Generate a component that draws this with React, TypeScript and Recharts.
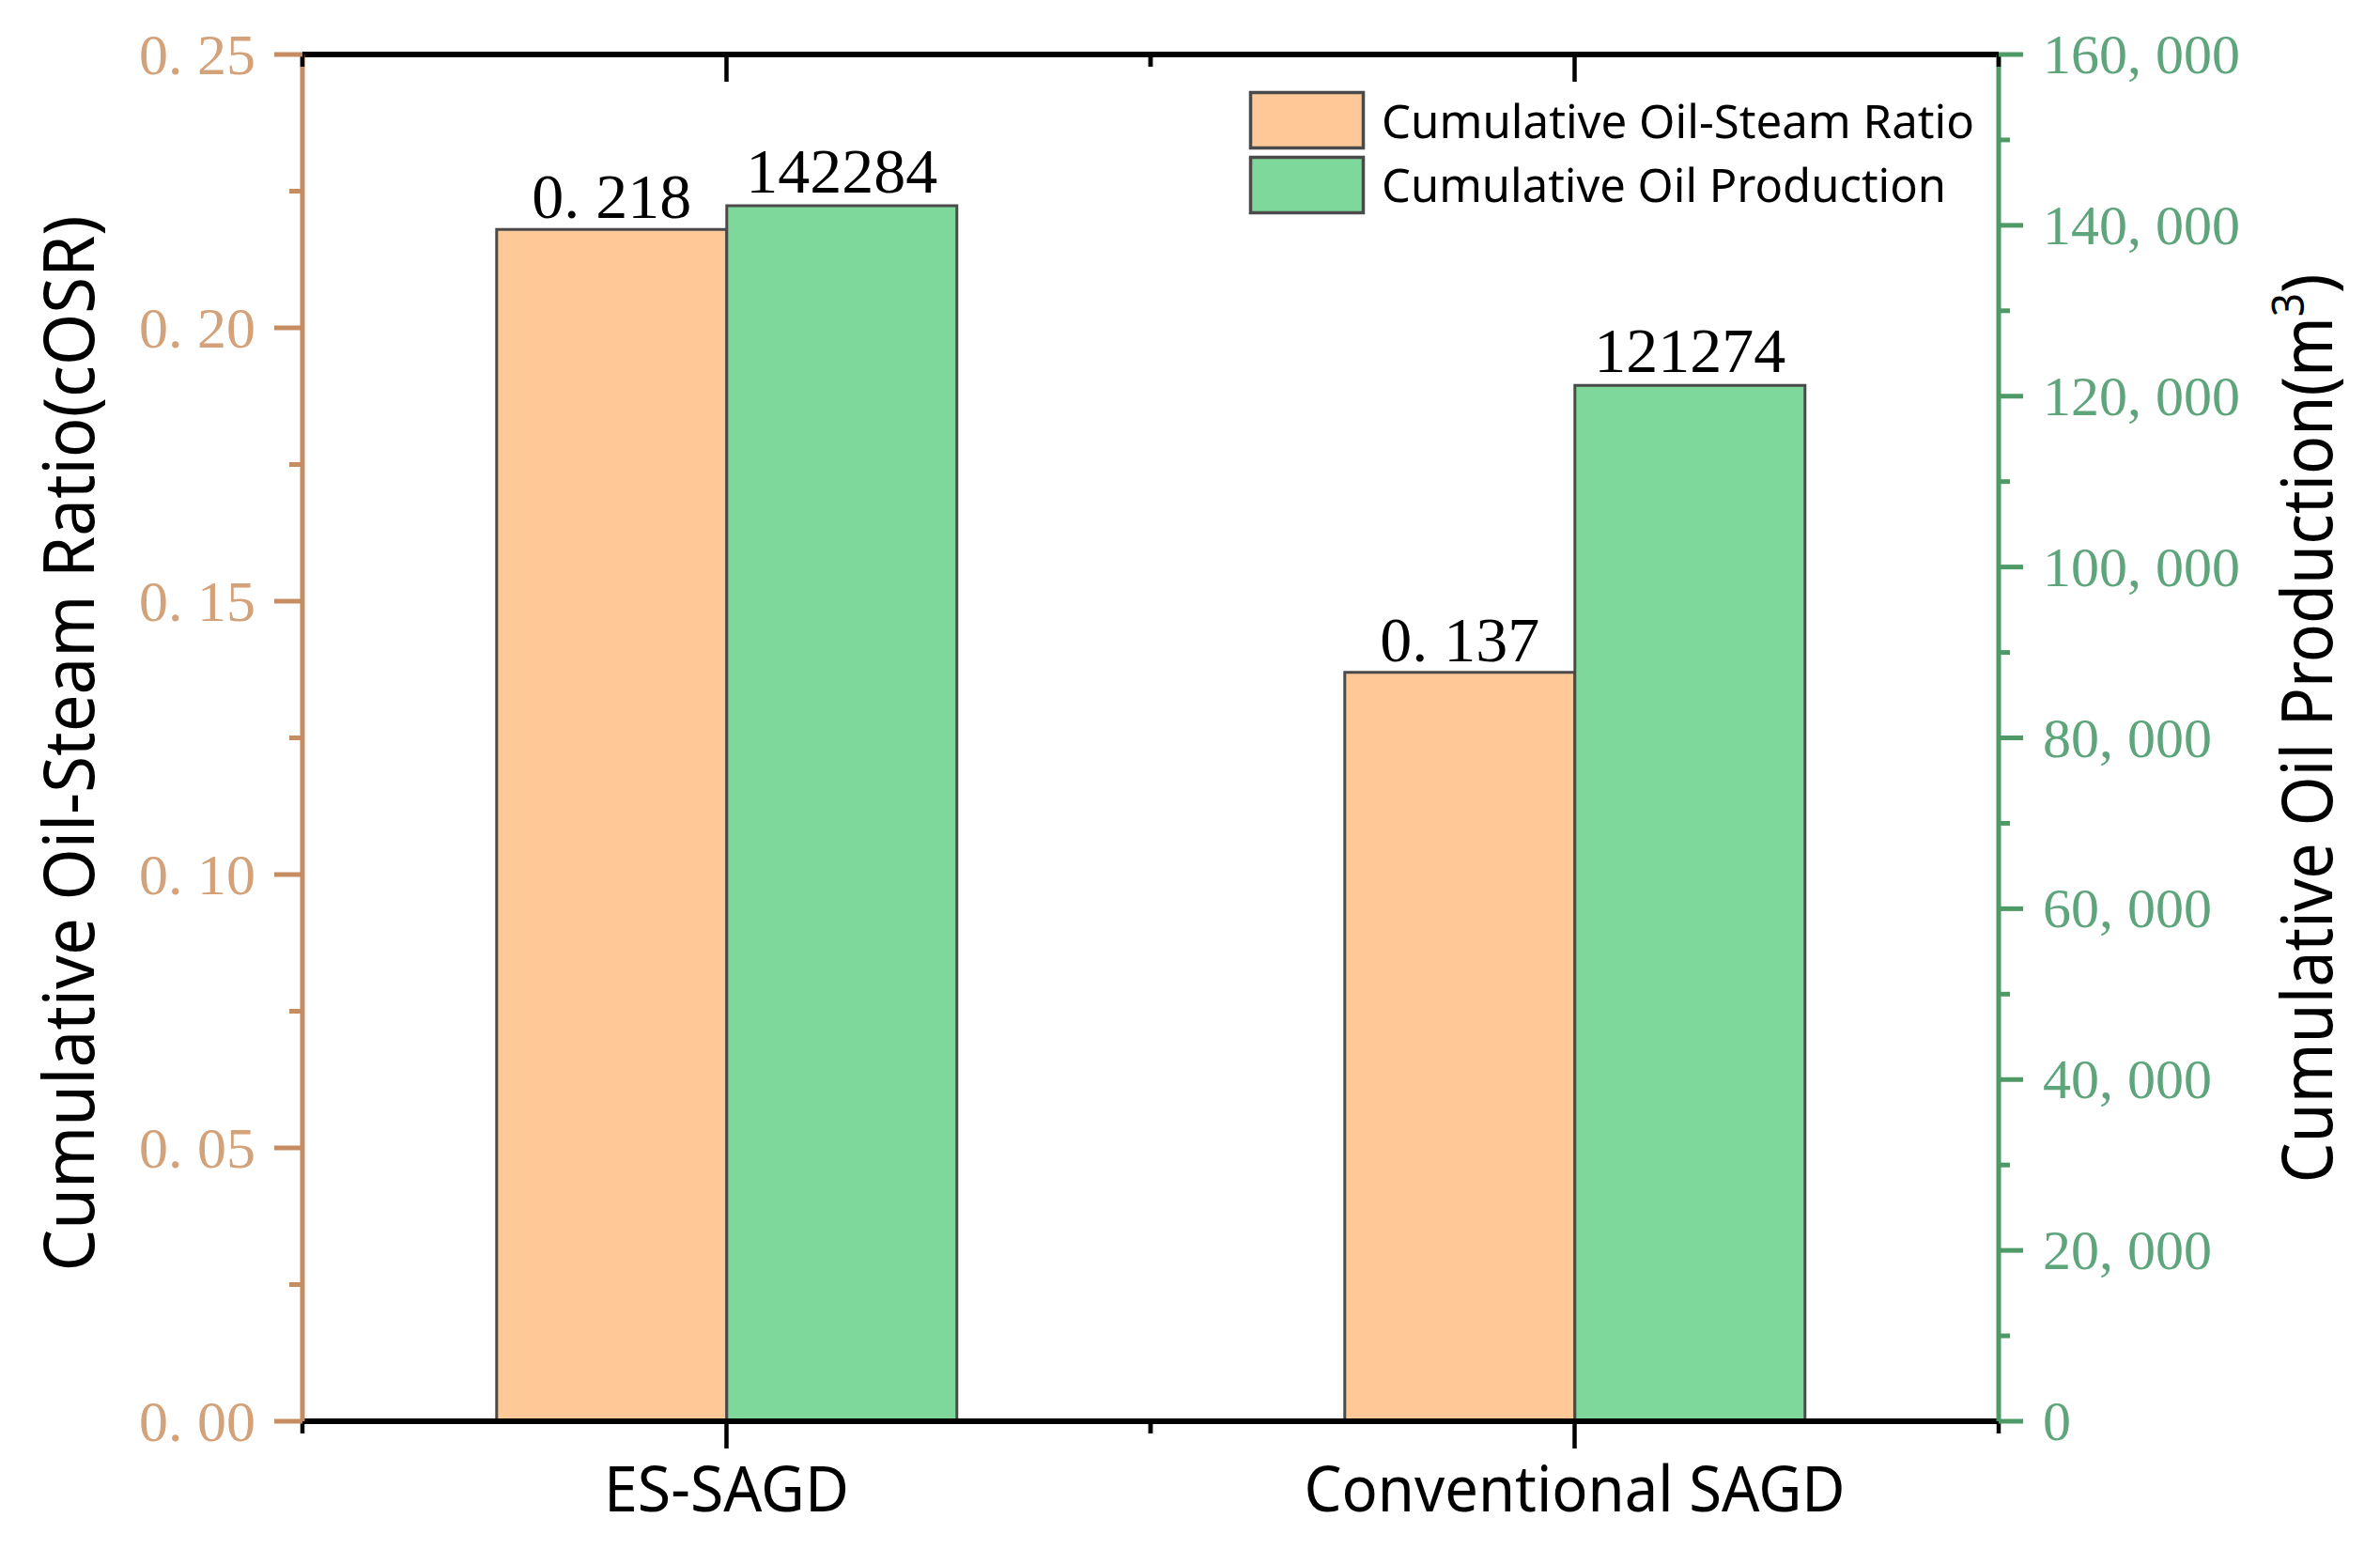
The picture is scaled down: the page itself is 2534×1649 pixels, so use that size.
import React from 'react';
import { ComposedChart, Bar, XAxis, YAxis, Legend, LabelList } from 'recharts';

// ---- data ----
const categories = ['ES-SAGD', 'Conventional SAGD'];
const cosrValues = [0.218, 0.137];
const oilValues = [142284, 121274];
const seriesNames = ['Cumulative Oil-Steam Ratio', 'Cumulative Oil Production'];
const leftMajorTicks = [0, 0.05, 0.1, 0.15, 0.2, 0.25];
const leftMinorTicks = [0.025, 0.075, 0.125, 0.175, 0.225];
const rightMajorTicks = [0, 20000, 40000, 60000, 80000, 100000, 120000, 140000, 160000];
const rightMinorTicks = [10000, 30000, 50000, 70000, 90000, 110000, 130000, 150000];
const leftTitle = 'Cumulative Oil-Steam Ratio(cOSR)';
const rightTitle = 'Cumulative Oil Production(m';
const rightTitleSup = '3';
const rightTitleEnd = ')';

const data = categories.map((name, i) => ({ name, cosr: cosrValues[i], oil: oilValues[i] }));
const leftTicks = [...leftMajorTicks, ...leftMinorTicks].sort((a, b) => a - b);
const rightTicks = [...rightMajorTicks, ...rightMinorTicks].sort((a, b) => a - b);

// ---- styles ----
const SERIF = '"Liberation Serif", "DejaVu Serif", serif';
const SANS = '"Noto Sans", "DejaVu Sans", sans-serif';
const TAN_AXIS = '#C68D63';
const TAN_TEXT = '#D3A27A';
const GREEN_AXIS = '#4E9A66';
const GREEN_TEXT = '#5FA57C';
const ORANGE_FILL = '#FEC897';
const GREEN_FILL = '#7FD89B';
const BAR_STROKE = '#4A4A4A';
const xLabelLengths = [261, 576];
const legendLengths = [631, 601];

const fmtLeft = (v: number) => v.toFixed(2).replace('.', '. ');
const fmtRight = (v: number) => {
  const s = String(Math.round(v));
  return s.length > 3 ? s.slice(0, -3) + ', ' + s.slice(-3) : s;
};
const fmtCosr = (v: number) => v.toFixed(3).replace('.', '. ');
const fmtOil = (v: number) => String(v);

function LeftTick(props: any) {
  const { x, y, payload } = props;
  const v = Number(payload.value);
  const major = leftMajorTicks.some((t) => Math.abs(t - v) < 1e-9);
  return (
    <g>
      <line x1={x} x2={x - (major ? 30 : 14)} y1={y} y2={y} stroke={TAN_AXIS} strokeWidth={5} />
      {major && (
        <text x={x - 50} y={y + 21} textAnchor="end" fontFamily={SERIF} fontSize={62} fill={TAN_TEXT}>
          {fmtLeft(v)}
        </text>
      )}
    </g>
  );
}

function RightTick(props: any) {
  const { x, y, payload } = props;
  const v = Number(payload.value);
  const major = rightMajorTicks.includes(v);
  return (
    <g>
      <line x1={x} x2={x + (major ? 26 : 12)} y1={y} y2={y} stroke={GREEN_AXIS} strokeWidth={5} />
      {major && (
        <text x={x + 47} y={y + 20} textAnchor="start" fontFamily={SERIF} fontSize={60} fill={GREEN_TEXT}>
          {fmtRight(v)}
        </text>
      )}
    </g>
  );
}

function BottomTick(props: any) {
  const { x, y, payload } = props;
  const half = typeof payload?.offset === 'number' ? payload.offset : 0;
  const idx = categories.indexOf(payload.value);
  return (
    <g>
      <line x1={x} x2={x} y1={y} y2={y + 29} stroke="#000" strokeWidth={4.5} />
      {half > 0 && <line x1={x - half} x2={x - half} y1={y} y2={y + 13} stroke="#000" strokeWidth={4.5} />}
      {half > 0 && <line x1={x + half} x2={x + half} y1={y} y2={y + 13} stroke="#000" strokeWidth={4.5} />}
      <text
        x={x}
        y={y + 96}
        textAnchor="middle"
        fontFamily={SANS}
        fontSize={67}
        fill="#000"
        textLength={idx >= 0 ? xLabelLengths[idx] : undefined}
        lengthAdjust="spacingAndGlyphs"
      >
        {payload.value}
      </text>
    </g>
  );
}

function TopTick(props: any) {
  const { x, y, payload } = props;
  const half = typeof payload?.offset === 'number' ? payload.offset : 0;
  return (
    <g>
      <line x1={x} x2={x} y1={y} y2={y + 29} stroke="#000" strokeWidth={4.5} />
      {half > 0 && <line x1={x - half} x2={x - half} y1={y} y2={y + 13} stroke="#000" strokeWidth={4.5} />}
      {half > 0 && <line x1={x + half} x2={x + half} y1={y} y2={y + 13} stroke="#000" strokeWidth={4.5} />}
    </g>
  );
}

function LeftTitle(props: any) {
  const vb = props.viewBox || { x: 0, y: 58, width: 322, height: 1455 };
  const cx = vb.x + 100;
  const cy = vb.y + vb.height / 2 + 6;
  return (
    <text
      x={cx}
      y={cy}
      transform={`rotate(-90, ${cx}, ${cy})`}
      textAnchor="middle"
      fontFamily={SANS}
      fontSize={74}
      fill="#000"
      textLength={1124}
      lengthAdjust="spacingAndGlyphs"
    >
      {leftTitle}
    </text>
  );
}

function RightTitle(props: any) {
  const vb = props.viewBox || { x: 2128, y: 58, width: 406, height: 1455 };
  const cx = vb.x + 355;
  const cy = vb.y + vb.height / 2 - 10;
  return (
    <text
      x={cx}
      y={cy}
      transform={`rotate(-90, ${cx}, ${cy})`}
      textAnchor="middle"
      fontFamily={SANS}
      fontSize={74}
      fill="#000"
      textLength={968}
      lengthAdjust="spacingAndGlyphs"
    >
      {rightTitle}
      <tspan fontSize={48} dy={-30}>{rightTitleSup}</tspan>
      <tspan dy={30}>{rightTitleEnd}</tspan>
    </text>
  );
}

function makeBarLabel(fmt: (v: number) => string, gap: number) {
  return (props: any) => {
    const vb = props.viewBox && typeof props.viewBox.x === 'number' ? props.viewBox : props;
    const { x, y, width } = vb;
    const { value } = props;
    if (typeof x !== 'number') return null;
    return (
      <text x={x + width / 2} y={y - gap} textAnchor="middle" fontFamily={SERIF} fontSize={68} fill="#000">
        {fmt(Number(value))}
      </text>
    );
  };
}

function LegendBox(props: any) {
  const items = [...(props.payload || [])].sort(
    (a: any, b: any) => seriesNames.indexOf(a.value) - seriesNames.indexOf(b.value)
  );
  return (
    <svg width={820} height={140} style={{ display: 'block', overflow: 'visible' }}>
      {items.map((it: any, i: number) => (
        <g key={i}>
          <rect x={1.5} y={1.5 + i * 69} width={120} height={59} fill={it.color} stroke={BAR_STROKE} strokeWidth={3.5} />
          <text
            x={141}
            y={50 + i * 68}
            fontFamily={SANS}
            fontSize={49}
            fill="#000"
            textLength={legendLengths[i]}
            lengthAdjust="spacingAndGlyphs"
          >
            {it.value}
          </text>
        </g>
      ))}
    </svg>
  );
}

export default function App() {
  return (
    <div style={{ position: 'absolute', left: 0, top: 0, width: 2534, height: 1649, background: '#fff' }}>
      <ComposedChart
        width={2534}
        height={1649}
        data={data}
        margin={{ top: 57, right: 0, bottom: 0, left: 0 }}
        barGap={0}
        barCategoryGap="22.9%"
      >
        <XAxis
          xAxisId="bottom"
          dataKey="name"
          orientation="bottom"
          height={136}
          interval={0}
          tickSize={0}
          tickMargin={0}
          tickLine={false}
          axisLine={{ stroke: '#000', strokeWidth: 6 }}
          tick={<BottomTick />}
        />
        <XAxis
          xAxisId="top"
          dataKey="name"
          orientation="top"
          height={1}
          interval={0}
          tickSize={0}
          tickMargin={0}
          tickLine={false}
          axisLine={{ stroke: '#000', strokeWidth: 6 }}
          tick={<TopTick />}
        />
        <YAxis
          yAxisId="left"
          orientation="left"
          width={322}
          domain={[0, 0.25]}
          ticks={leftTicks}
          interval={0}
          tickSize={0}
          tickMargin={0}
          tickLine={false}
          axisLine={{ stroke: TAN_AXIS, strokeWidth: 5 }}
          tick={<LeftTick />}
          label={<LeftTitle />}
        />
        <YAxis
          yAxisId="right"
          orientation="right"
          width={406}
          domain={[0, 160000]}
          ticks={rightTicks}
          interval={0}
          tickSize={0}
          tickMargin={0}
          tickLine={false}
          axisLine={{ stroke: GREEN_AXIS, strokeWidth: 5 }}
          tick={<RightTick />}
          label={<RightTitle />}
        />
        <Bar
          xAxisId="bottom"
          yAxisId="left"
          dataKey="cosr"
          name={seriesNames[0]}
          fill={ORANGE_FILL}
          stroke={BAR_STROKE}
          strokeWidth={3}
          isAnimationActive={false}
        >
          <LabelList dataKey="cosr" content={makeBarLabel(fmtCosr, 12)} />
        </Bar>
        <Bar
          xAxisId="bottom"
          yAxisId="right"
          dataKey="oil"
          name={seriesNames[1]}
          fill={GREEN_FILL}
          stroke={BAR_STROKE}
          strokeWidth={3}
          isAnimationActive={false}
        >
          <LabelList dataKey="oil" content={makeBarLabel(fmtOil, 14)} />
        </Bar>
        <Legend
          layout="horizontal"
          verticalAlign="middle"
          align="center"
          itemSorter={null as any}
          content={<LegendBox />}
          wrapperStyle={{ left: 1330, top: 97, width: 820, height: 140 }}
        />
      </ComposedChart>
    </div>
  );
}
